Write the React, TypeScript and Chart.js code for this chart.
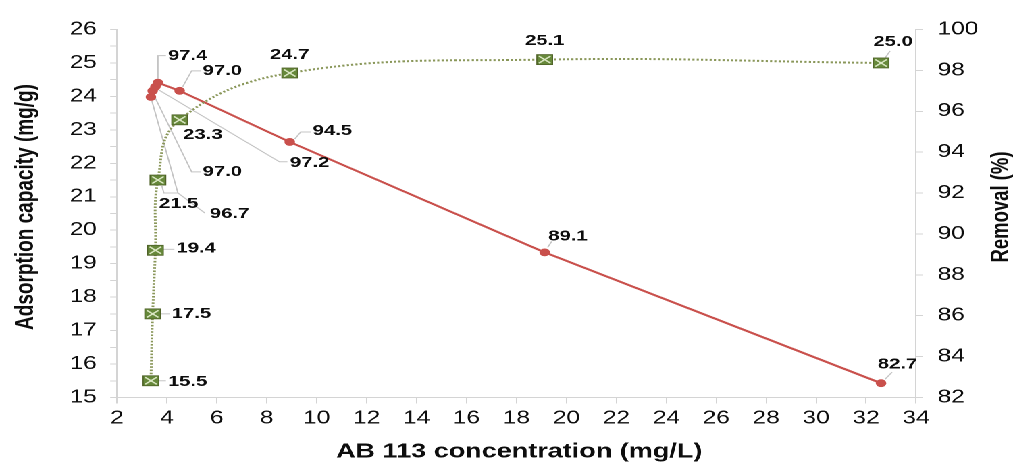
import React, { useEffect, useRef } from 'react';
import { Chart, registerables } from 'chart.js';

Chart.register(...registerables);

// ---- data ----
const concentration = [3.36, 3.43, 3.54, 3.64, 4.51, 8.92, 19.13, 32.6];
const adsorptionCapacity = [15.5, 17.5, 19.4, 21.5, 23.3, 24.7, 25.1, 25.0];
const removal = [96.7, 97.0, 97.2, 97.4, 97.0, 94.5, 89.1, 82.7];

const xRange = [2, 34];
const xStep = 2;
const capacityRange = [15, 26];
const capacityStep = 0.5;
const removalRange = [82, 100];
const removalStep = 2;

const xTitle = 'AB 113 concentration (mg/L)';
const leftTitle = 'Adsorption capacity (mg/g)';
const rightTitle = 'Removal (%)';

// ---- layout / style ----
const BASE_W = 750;
const BASE_H = 467;
const S = 1013 / BASE_W; // horizontal stretch of the reference
const FONT = '"Liberation Sans", Arial, Helvetica, sans-serif';
const GREEN_LINE = '#8a975a';
const GREEN_FILL = '#66883a';
const GREEN_EDGE = '#4f6228';
const RED = '#c9504c';
const AXIS = '#d4d4d4';
const LEADER = '#c4c4c4';
const TEXT = '#0d0d0d';

type Lbl = { tx: number; ty: number; align: CanvasTextAlign; lead?: number[][] };

const capacityLabelLayout: Lbl[] = [
  { tx: 17, ty: 1, align: 'left', lead: [[7, 0], [15, 0]] },
  { tx: 19, ty: 0, align: 'left', lead: [[7, 0], [17, 0]] },
  { tx: 21, ty: -2, align: 'left', lead: [[7, -1], [19, -1]] },
  { tx: 1, ty: 24, align: 'left', lead: [[4, 6], [6, 13], [20, 13]] },
  { tx: 3.5, ty: 15, align: 'left' },
  { tx: 0, ty: -18, align: 'center' },
  { tx: 0, ty: -18.5, align: 'center' },
  { tx: 12, ty: -21, align: 'center', lead: [[4, -5], [9, -12]] },
];

const removalLabelLayout: Lbl[] = [
  { tx: 59, ty: 117, align: 'left', lead: [[1, 4], [27, 96], [54, 116]] },
  { tx: 50, ty: 81, align: 'left', lead: [[1, 4], [39, 81], [48, 81]] },
  { tx: 134.5, ty: 76, align: 'left', lead: [[3, 3], [124, 75], [132, 75]] },
  { tx: 10, ty: -27, align: 'left', lead: [[0, -4], [0, -27], [8, -27]] },
  { tx: 23, ty: -20, align: 'left', lead: [[3, -4], [12, -20], [21, -20]] },
  { tx: 23, ty: -11, align: 'left', lead: [[5, -3], [11, -10], [21, -10]] },
  { tx: 3.5, ty: -16, align: 'left', lead: [[3, -5], [7, -11]] },
  { tx: 16.5, ty: -19, align: 'center', lead: [[4, -4], [11, -11]] },
];

const labelSets = [
  { ds: 0, layout: capacityLabelLayout, values: adsorptionCapacity },
  { ds: 1, layout: removalLabelLayout, values: removal },
];

const annotatePlugin = {
  id: 'annotate',
  beforeDatasetsDraw(chart: any) {
    const ctx = chart.ctx as CanvasRenderingContext2D;
    ctx.save();
    ctx.strokeStyle = LEADER;
    ctx.lineWidth = 1;
    labelSets.forEach(({ ds, layout }) => {
      const meta = chart.getDatasetMeta(ds);
      meta.data.forEach((pt: any, i: number) => {
        const L = layout[i];
        if (!L || !L.lead) return;
        ctx.beginPath();
        L.lead.forEach(([dx, dy], k) => {
          const x = pt.x + dx / S;
          const y = pt.y + dy;
          if (k === 0) ctx.moveTo(x, y);
          else ctx.lineTo(x, y);
        });
        ctx.stroke();
      });
    });
    ctx.restore();
  },
  afterDatasetsDraw(chart: any) {
    const ctx = chart.ctx as CanvasRenderingContext2D;
    ctx.save();
    // green square markers with an X
    const gMeta = chart.getDatasetMeta(0);
    const w = 11.6;
    const h = 10;
    gMeta.data.forEach((pt: any) => {
      const x0 = pt.x - w / 2;
      const y0 = pt.y - h / 2;
      ctx.fillStyle = GREEN_FILL;
      ctx.fillRect(x0, y0, w, h);
      ctx.strokeStyle = GREEN_EDGE;
      ctx.lineWidth = 0.8;
      ctx.strokeRect(x0, y0, w, h);
      ctx.strokeStyle = '#dbe7c4';
      ctx.lineWidth = 1.3;
      ctx.beginPath();
      ctx.moveTo(x0 + 1.5, y0 + 1.5);
      ctx.lineTo(x0 + w - 1.5, y0 + h - 1.5);
      ctx.moveTo(x0 + w - 1.5, y0 + 1.5);
      ctx.lineTo(x0 + 1.5, y0 + h - 1.5);
      ctx.stroke();
    });
    // value labels
    ctx.fillStyle = TEXT;
    ctx.font = `bold 15px ${FONT}`;
    ctx.textBaseline = 'middle';
    labelSets.forEach(({ ds, layout, values }) => {
      const meta = chart.getDatasetMeta(ds);
      meta.data.forEach((pt: any, i: number) => {
        const L = layout[i];
        ctx.textAlign = L.align;
        ctx.fillText(values[i].toFixed(1), pt.x + L.tx / S, pt.y + L.ty);
      });
    });
    ctx.restore();
  },
  afterDraw(chart: any) {
    const ctx = chart.ctx as CanvasRenderingContext2D;
    ctx.save();
    ctx.fillStyle = TEXT;
    ctx.textAlign = 'center';
    ctx.textBaseline = 'middle';
    ctx.font = `bold 19px ${FONT}`;
    ctx.save();
    ctx.translate(19.3, 207);
    ctx.rotate(-Math.PI / 2);
    ctx.fillText(leftTitle, 0, 0);
    ctx.restore();
    ctx.save();
    ctx.font = `bold 18.5px ${FONT}`;
    ctx.translate(741.5, 207);
    ctx.rotate(-Math.PI / 2);
    ctx.fillText(rightTitle, 0, 0);
    ctx.restore();
    ctx.font = `bold 20px ${FONT}`;
    const xs = chart.scales.x;
    ctx.fillText(xTitle, (xs.left + xs.right) / 2 + 2, 452);
    ctx.restore();
  },
};

export default function App() {
  const ref = useRef<HTMLCanvasElement>(null);

  useEffect(() => {
    const canvas = ref.current!;
    const tickFont = { family: FONT, size: 18 };
    const chart = new Chart(canvas, {
      type: 'line',
      data: {
        datasets: [
          {
            label: leftTitle,
            data: concentration.map((x, i) => ({ x, y: adsorptionCapacity[i] })),
            yAxisID: 'y',
            borderColor: GREEN_LINE,
            borderWidth: 2,
            borderDash: [1.6, 1.6],
            tension: 0.4,
            pointRadius: 0,
            fill: false,
          },
          {
            label: rightTitle,
            data: concentration.map((x, i) => ({ x, y: removal[i] })),
            yAxisID: 'y1',
            borderColor: RED,
            borderWidth: 2,
            tension: 0,
            pointRadius: 3.9,
            pointBackgroundColor: RED,
            pointBorderColor: RED,
            pointBorderWidth: 0,
            fill: false,
          },
        ],
      },
      options: {
        animation: false,
        responsive: false,
        devicePixelRatio: 2,
        layout: { padding: { top: 29.5, left: 0, right: 0, bottom: 0 } },
        plugins: {
          legend: { display: false },
          tooltip: { enabled: false },
        },
        scales: {
          x: {
            type: 'linear',
            position: 'bottom',
            min: xRange[0],
            max: xRange[1],
            ticks: {
              stepSize: xStep,
              autoSkip: false,
              maxRotation: 0,
              font: tickFont,
              color: TEXT,
              padding: 4,
            },
            grid: { display: true, drawOnChartArea: false, tickLength: 6, color: AXIS },
            border: { color: AXIS, width: 1 },
            afterFit: (s: any) => {
              s.height = 69.5;
            },
          },
          y: {
            type: 'linear',
            position: 'left',
            min: capacityRange[0],
            max: capacityRange[1],
            ticks: {
              stepSize: capacityStep,
              autoSkip: false,
              font: tickFont,
              color: TEXT,
              padding: 10,
              callback: (v: any) => (Number.isInteger(Number(v)) ? String(v) : ''),
            },
            grid: { display: true, drawOnChartArea: false, tickLength: 5, color: AXIS },
            border: { color: AXIS, width: 1 },
            afterFit: (s: any) => {
              s.width = 86.6;
            },
          },
          y1: {
            type: 'linear',
            position: 'right',
            min: removalRange[0],
            max: removalRange[1],
            ticks: {
              stepSize: removalStep,
              autoSkip: false,
              font: tickFont,
              color: TEXT,
              padding: 11,
            },
            grid: { display: true, drawOnChartArea: false, tickLength: 5, color: AXIS },
            border: { color: AXIS, width: 1 },
            afterFit: (s: any) => {
              s.width = 71.8;
            },
          },
        },
      },
      plugins: [annotatePlugin],
    });
    return () => chart.destroy();
  }, []);

  return (
    <div
      style={{
        position: 'absolute',
        left: 0,
        top: 0,
        width: BASE_W,
        height: BASE_H,
        transform: `scaleX(${S})`,
        transformOrigin: '0 0',
        background: '#ffffff',
      }}
    >
      <canvas ref={ref} width={BASE_W} height={BASE_H} style={{ display: 'block' }} />
    </div>
  );
}
